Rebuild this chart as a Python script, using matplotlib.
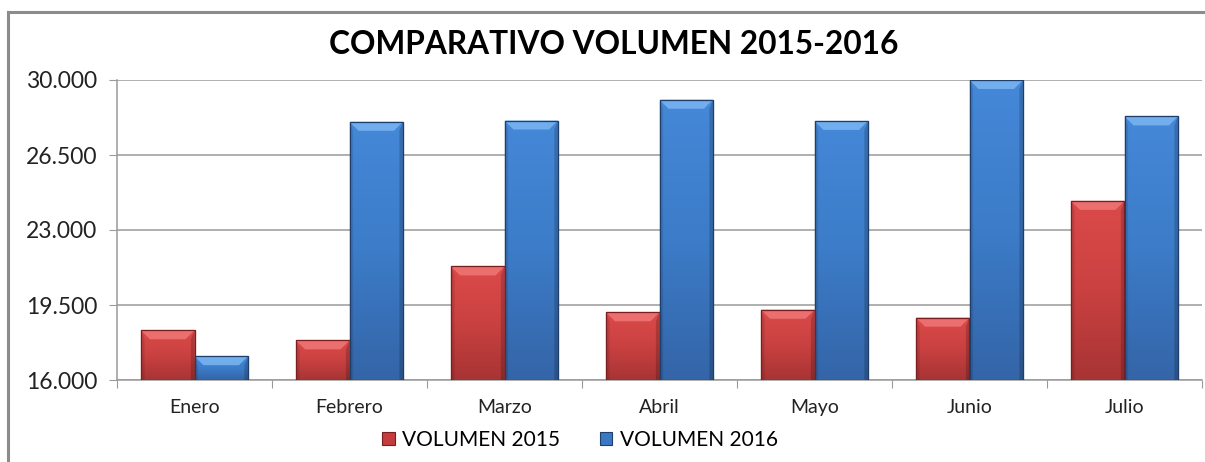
import numpy as np
import matplotlib
matplotlib.use("Agg")
import matplotlib.pyplot as plt
from matplotlib.patches import Rectangle, Polygon
from matplotlib.lines import Line2D
from matplotlib.ticker import FuncFormatter, FixedLocator

months = ["Enero", "Febrero", "Marzo", "Abril", "Mayo", "Junio", "Julio"]
vol_2015 = [18320, 17850, 21300, 19160, 19280, 18910, 24360]
vol_2016 = [17110, 28050, 28110, 29080, 28090, 30000, 28300]
series_names = ["VOLUMEN 2015", "VOLUMEN 2016"]
y_ticks = [16000, 19500, 23000, 26500, 30000]
title = "COMPARATIVO VOLUMEN 2015-2016"

plt.rcParams['font.family'] = ['Lato', 'DejaVu Sans']

W, H = 1205, 462
fig = plt.figure(figsize=(W / 100, H / 100), dpi=100)
fig.patch.set_facecolor("white")

# chart frame (top and left visible)
fig.lines.append(Line2D([8 / W, 1.0], [1 - 12 / H, 1 - 12 / H],
                        transform=fig.transFigure, color="#8c8c8c",
                        linewidth=2.2))
fig.lines.append(Line2D([8 / W, 8 / W], [0.0, 1 - 12 / H],
                        transform=fig.transFigure, color="#8c8c8c",
                        linewidth=2.2))

ax = fig.add_axes([117 / W, 1 - 380 / H, (1202 - 117) / W, 300 / H])
ax.set_facecolor("none")

x = np.arange(len(months))
bw = 0.345
red = "#C63C3C"
blue = "#3B78C4"
bars1 = ax.bar(x - bw / 2, np.array(vol_2015) - 16000, bw, bottom=16000,
               color=red, edgecolor="#7a1f1f", linewidth=0.8, zorder=3,
               label=series_names[0])
bars2 = ax.bar(x + bw / 2, np.array(vol_2016) - 16000, bw, bottom=16000,
               color=blue, edgecolor="#1f3f6a", linewidth=0.8, zorder=3,
               label=series_names[1])

ax.set_xlim(-0.5, len(months) - 0.5)
ax.set_ylim(16000, 30000)


def shade(bars, top_col, mid_col, bot_col, bevel_col):
    cmap = matplotlib.colors.LinearSegmentedColormap.from_list(
        "g", [bot_col, mid_col, top_col])
    for b in bars:
        x0, y0 = b.get_x(), b.get_y()
        w, h = b.get_width(), b.get_height()
        grad = np.linspace(0, 1, 64).reshape(-1, 1)
        im = ax.imshow(grad, extent=[x0, x0 + w, y0, y0 + h], origin="lower",
                       aspect="auto", cmap=cmap, zorder=3.1,
                       interpolation="bicubic")
        im.set_clip_path(b)
        inv = ax.transData.inverted()
        p0 = inv.transform((0, 0))
        p1 = inv.transform((9, 9))
        dx, dy = p1[0] - p0[0], p1[1] - p0[1]
        dy = min(dy, h * 0.5)
        top = Polygon([[x0, y0 + h], [x0 + w, y0 + h],
                       [x0 + w - dx, y0 + h - dy], [x0 + dx, y0 + h - dy]],
                      closed=True, facecolor=bevel_col, edgecolor="none",
                      zorder=3.2, alpha=0.9)
        ax.add_patch(top)
        left = Polygon([[x0, y0], [x0, y0 + h], [x0 + dx * 0.4, y0 + h - dy],
                        [x0 + dx * 0.4, y0]], closed=True,
                       facecolor="black", alpha=0.10, edgecolor="none",
                       zorder=3.2)
        right = Polygon([[x0 + w, y0], [x0 + w, y0 + h],
                         [x0 + w - dx * 0.4, y0 + h - dy],
                         [x0 + w - dx * 0.4, y0]], closed=True,
                        facecolor="black", alpha=0.18, edgecolor="none",
                        zorder=3.2)
        ax.add_patch(left)
        ax.add_patch(right)
        ax.add_patch(Rectangle((x0, y0), w, h, fill=False,
                               edgecolor=b.get_edgecolor(), linewidth=0.9,
                               zorder=3.3))


shade(bars1, "#DB4A4A", "#CA4141", "#A83434", "#EE7474")
shade(bars2, "#4588D8", "#3C7CC8", "#3465A8", "#78B2F0")

ax.yaxis.set_major_locator(FixedLocator(y_ticks))
ax.yaxis.set_major_formatter(FuncFormatter(lambda v, p: f"{int(v):,}".replace(",", ".")))
ax.grid(axis="y", color="#9a9a9a", linewidth=1.1, zorder=0)
ax.set_axisbelow(True)
for s in ["top", "right"]:
    ax.spines[s].set_visible(False)
for s in ["left", "bottom"]:
    ax.spines[s].set_color("#9a9a9a")
    ax.spines[s].set_linewidth(1.1)

ax.tick_params(axis="y", direction="out", length=6, color="#9a9a9a",
               labelsize=16.5, pad=8, labelcolor="#222222")
ax.set_xticks(np.arange(-0.5, len(months) + 0.5, 1.0))
ax.set_xticks(x, minor=True)
ax.set_xticklabels([""] * (len(months) + 1))
ax.set_xticklabels(months, minor=True)
ax.tick_params(axis="x", which="major", direction="out", length=6,
               color="#9a9a9a")
ax.tick_params(axis="x", which="minor", length=0, labelsize=14, pad=14,
               labelcolor="#222222")

fig.text(614 / W, 1 - 44 / H, title, ha="center", va="center",
         fontsize=22.8, fontweight="bold", color="black")

leg = fig.legend(handles=[bars1, bars2], labels=series_names,
                 loc="center", bbox_to_anchor=(580 / W, 1 - 440 / H),
                 ncol=2, frameon=False, fontsize=15, handlelength=0.6,
                 handleheight=0.6, handletextpad=0.35, columnspacing=1.9,
                 borderpad=0)

fig.savefig("out.png", dpi=100, facecolor="white")
